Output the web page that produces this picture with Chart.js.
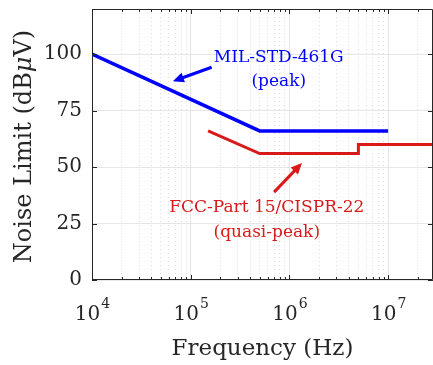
<!DOCTYPE html>
<html lang="en">
<head>
    <meta charset="UTF-8">
    <title>Noise Limits</title>
    <style>
        body {
            margin: 0;
            background: #ffffff;
            overflow: hidden;
        }

        .chart-box {
            position: relative;
            width: 433px;
            height: 365px;
        }
    </style>
    <script src="https://cdn.jsdelivr.net/npm/chart.js"></script>
</head>
<body>
<div class="chart-box">
    <canvas id="noiseChart" width="433" height="365"></canvas>
</div>

<script>
    // chart values
    const milFreq = [1e4, 5e5, 1e7];
    const milLimit = [100, 66, 66];
    const fccFreq = [1.5e5, 5e5, 5e6, 5e6, 3e7];
    const fccLimit = [66, 56, 56, 60, 60];
    const xDecades = [1e4, 1e5, 1e6, 1e7];
    const yTicks = [0, 25, 50, 75, 100];

    const FONT = "'DejaVu Serif', serif";
    const INK = '#262626';
    const BLUE = '#0000ff';
    const RED = '#d91a1a';

    function isDecade(v) {
        const l = Math.log10(v);
        return Math.abs(l - Math.round(l)) < 1e-6;
    }

    function toPoints(xs, ys) {
        return xs.map((v, i) => ({x: v, y: ys[i]}));
    }

    // all 1..9 x 10^n ticks for minor grid
    function logTicks(min, max) {
        const out = [];
        for (let e = Math.floor(Math.log10(min)); e <= Math.ceil(Math.log10(max)); e++) {
            for (let k = 1; k <= 9; k++) {
                const v = k * Math.pow(10, e);
                if (v >= min * 0.999 && v <= max * 1.001) out.push({value: v});
            }
        }
        return out;
    }

    function arrow(ctx, x1, y1, x2, y2, color) {
        const ang = Math.atan2(y2 - y1, x2 - x1);
        const head = 11, half = 5;
        ctx.strokeStyle = color;
        ctx.fillStyle = color;
        ctx.lineWidth = 3;
        ctx.beginPath();
        ctx.moveTo(x1, y1);
        ctx.lineTo(x2 - Math.cos(ang) * head * 0.8, y2 - Math.sin(ang) * head * 0.8);
        ctx.stroke();
        ctx.beginPath();
        ctx.moveTo(x2, y2);
        ctx.lineTo(x2 - Math.cos(ang) * head - Math.sin(ang) * half, y2 - Math.sin(ang) * head + Math.cos(ang) * half);
        ctx.lineTo(x2 - Math.cos(ang) * head + Math.sin(ang) * half, y2 - Math.sin(ang) * head - Math.cos(ang) * half);
        ctx.closePath();
        ctx.fill();
    }

    const frame = {
        id: 'frame',
        afterDatasetsDraw(chart) {
            const {ctx, scales: {x, y}} = chart;
            ctx.save();
            // labels and arrows, placed in data coordinates
            ctx.textAlign = 'center';
            ctx.textBaseline = 'middle';
            ctx.font = '17px ' + FONT;
            ctx.fillStyle = BLUE;
            ctx.fillText('MIL-STD-461G', x.getPixelForValue(7.8e5), y.getPixelForValue(98.7));
            ctx.fillText('(peak)', x.getPixelForValue(7.8e5), y.getPixelForValue(88));
            arrow(ctx, x.getPixelForValue(1.63e5), y.getPixelForValue(94.2),
                x.getPixelForValue(6.6e4), y.getPixelForValue(88), BLUE);

            ctx.fillStyle = RED;
            ctx.fillText('FCC-Part 15/CISPR-22', x.getPixelForValue(5.9e5), y.getPixelForValue(31.9));
            ctx.fillText('(quasi-peak)', x.getPixelForValue(5.9e5), y.getPixelForValue(21.2));
            arrow(ctx, x.getPixelForValue(7e5), y.getPixelForValue(38.9),
                x.getPixelForValue(1.34e6), y.getPixelForValue(51.8), RED);
            ctx.restore();
        },
        afterDraw(chart) {
            const {ctx, chartArea: a, scales: {x, y}} = chart;
            ctx.save();
            ctx.strokeStyle = INK;
            ctx.lineWidth = 1;
            // box
            ctx.beginPath();
            ctx.moveTo(a.left + 0.5, a.top + 0.5);
            ctx.lineTo(a.right - 0.5, a.top + 0.5);
            ctx.lineTo(a.right - 0.5, a.bottom - 0.5);
            ctx.lineTo(a.left + 0.5, a.bottom - 0.5);
            ctx.closePath();
            ctx.stroke();

            // inward ticks
            ctx.beginPath();
            x.ticks.forEach(t => {
                const px = Math.round(x.getPixelForValue(t.value)) + 0.5;
                const len = isDecade(t.value) ? 5 : 3;
                ctx.moveTo(px, a.bottom);
                ctx.lineTo(px, a.bottom - len);
                ctx.moveTo(px, a.top);
                ctx.lineTo(px, a.top + len);
            });
            yTicks.forEach(v => {
                const py = Math.round(y.getPixelForValue(v)) + 0.5;
                ctx.moveTo(a.left, py);
                ctx.lineTo(a.left + 5, py);
                ctx.moveTo(a.right, py);
                ctx.lineTo(a.right - 5, py);
            });
            ctx.stroke();

            // x tick labels with exponent
            ctx.fillStyle = INK;
            ctx.textBaseline = 'alphabetic';
            ctx.textAlign = 'left';
            xDecades.forEach(d => {
                const px = x.getPixelForValue(d);
                const ex = String(Math.round(Math.log10(d)));
                ctx.font = '20px ' + FONT;
                const w1 = ctx.measureText('10').width;
                ctx.font = '14px ' + FONT;
                const w2 = ctx.measureText(ex).width;
                const x0 = px - (w1 + w2) / 2;
                ctx.font = '20px ' + FONT;
                ctx.fillText('10', x0, 320);
                ctx.font = '14px ' + FONT;
                ctx.fillText(ex, x0 + w1 + 1, 308);
            });

            // axis titles
            ctx.font = '23px ' + FONT;
            ctx.textAlign = 'center';
            ctx.fillText('Frequency (Hz)', (a.left + a.right) / 2, 355);

            ctx.translate(31, (a.top + a.bottom) / 2 + 2);
            ctx.rotate(-Math.PI / 2);
            const parts = [['Noise Limit (dB', ''], ['\u03bc', 'italic '], ['V)', '']];
            let total = 0;
            parts.forEach(p => {
                ctx.font = p[1] + '24px ' + FONT;
                total += ctx.measureText(p[0]).width;
            });
            let cx = -total / 2;
            ctx.textAlign = 'left';
            parts.forEach(p => {
                ctx.font = p[1] + '24px ' + FONT;
                ctx.fillText(p[0], cx, 0);
                cx += ctx.measureText(p[0]).width;
            });
            ctx.restore();
        }
    };

    new Chart(document.getElementById('noiseChart'), {
        type: 'scatter',
        data: {
            datasets: [{
                label: 'MIL-STD-461G',
                data: toPoints(milFreq, milLimit),
                showLine: true,
                borderColor: BLUE,
                borderWidth: 3.5,
                pointRadius: 0,
                borderJoinStyle: 'miter'
            }, {
                label: 'FCC-Part 15/CISPR-22',
                data: toPoints(fccFreq, fccLimit),
                showLine: true,
                borderColor: RED,
                borderWidth: 3,
                pointRadius: 0,
                borderJoinStyle: 'miter'
            }]
        },
        options: {
            responsive: false,
            animation: false,
            layout: {padding: {top: 9, right: 0, left: 0, bottom: 0}},
            plugins: {
                legend: {display: false},
                tooltip: {enabled: false}
            },
            scales: {
                x: {
                    type: 'logarithmic',
                    min: 1e4,
                    max: 2.85e7,
                    afterBuildTicks: s => { s.ticks = logTicks(1e4, 2.85e7); },
                    afterFit: s => {
                        s.height = 85;
                        s.paddingLeft = 0;
                        s.paddingRight = 0;
                    },
                    ticks: {display: false},
                    border: {
                        display: false,
                        dash: c => (c.tick && !isDecade(c.tick.value)) ? [1, 3] : []
                    },
                    grid: {
                        drawTicks: false,
                        color: c => (c.tick && isDecade(c.tick.value)) ? '#e6e6e6' : '#dcdcdc',
                        lineWidth: 1
                    }
                },
                y: {
                    min: 0,
                    max: 120,
                    afterBuildTicks: s => { s.ticks = yTicks.map(v => ({value: v})); },
                    afterFit: s => {
                        s.width = 92;
                        s.paddingTop = 0;
                        s.paddingBottom = 0;
                    },
                    ticks: {
                        padding: 10,
                        color: INK,
                        font: {family: 'DejaVu Serif', size: 20}
                    },
                    border: {display: false},
                    grid: {
                        drawTicks: false,
                        color: '#e6e6e6',
                        lineWidth: 1
                    }
                }
            }
        },
        plugins: [frame]
    });
</script>
</body>
</html>
